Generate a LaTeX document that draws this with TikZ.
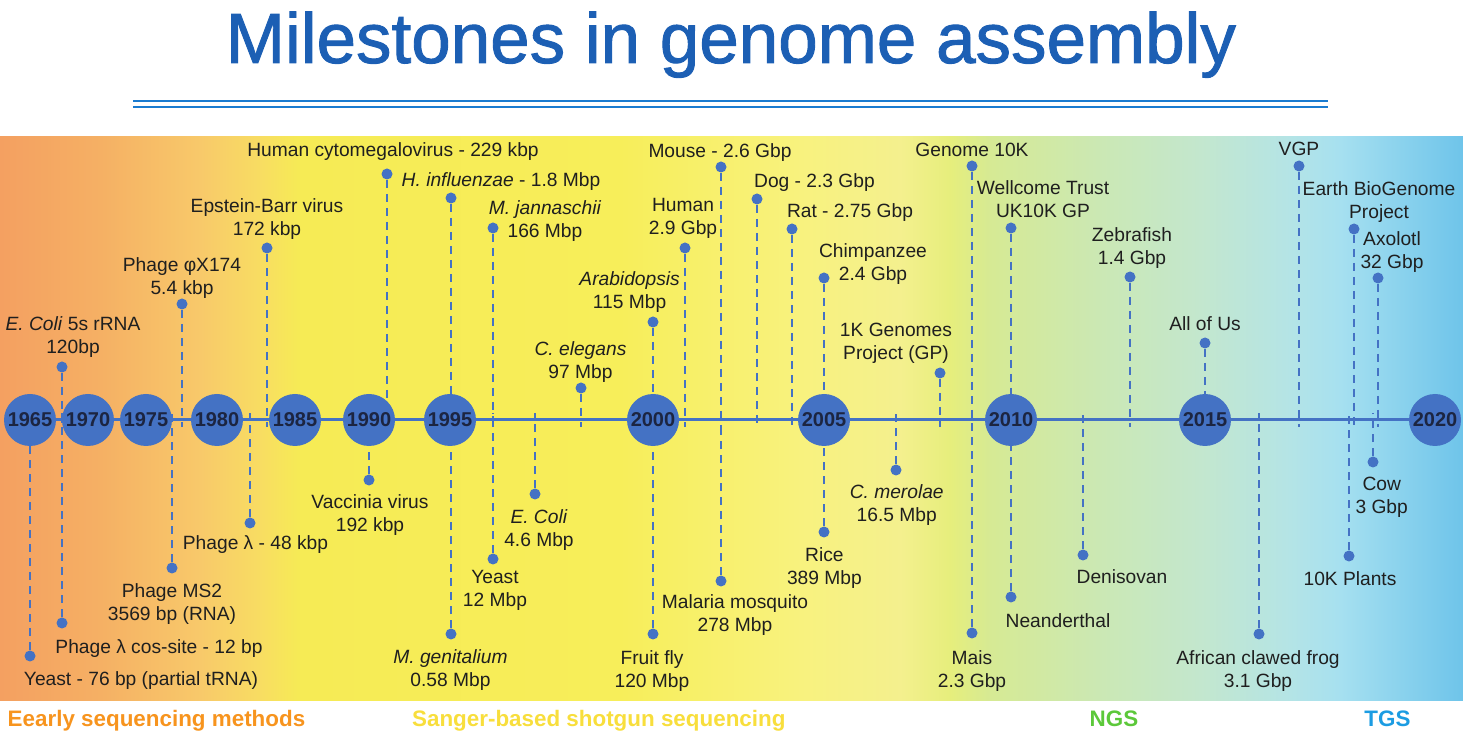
\documentclass[tikz,border=0pt]{standalone}
\usepackage{fontspec}
\setmainfont{Liberation Sans}
\newfontfamily\titlefont{Liberation Sans}[FakeBold=1.3]
\usetikzlibrary{positioning}
\definecolor{tlblue}{HTML}{4472C4}
\definecolor{yeartext}{HTML}{1C2541}
\definecolor{titleblue}{HTML}{1C5FB4}
\definecolor{rulerblue}{HTML}{1A7BD0}
\definecolor{earlyorange}{HTML}{F7941E}
\definecolor{sangeryellow}{HTML}{F8DE3C}
\definecolor{ngsgreen}{HTML}{5CC83A}
\definecolor{tgsblue}{HTML}{1C9CE2}
% background band, left to right
\definecolor{bandA}{HTML}{F4A061}
\definecolor{bandB}{HTML}{F5B064}
\definecolor{bandC}{HTML}{F8C96A}
\definecolor{bandD}{HTML}{F8DD62}
\definecolor{bandE}{HTML}{F6EB55}
\definecolor{bandF}{HTML}{F7EE5A}
\definecolor{bandG}{HTML}{F8F27E}
\definecolor{bandH}{HTML}{F4F08E}
\definecolor{bandI}{HTML}{E6EE7C}
\definecolor{bandJ}{HTML}{D6EA94}
\definecolor{bandK}{HTML}{CBE8B4}
\definecolor{bandL}{HTML}{C3E7CE}
\definecolor{bandM}{HTML}{B4E4E6}
\definecolor{bandN}{HTML}{A6E0F0}
\definecolor{bandO}{HTML}{6EC4EA}
\tikzset{
  yearnode/.style={circle, fill=tlblue, minimum size=26pt, inner sep=0pt, text=yeartext, font=\bfseries\fontsize{10}{12}\selectfont},
  msdot/.style={circle, fill=tlblue, minimum size=5.5pt, inner sep=0pt},
  stemline/.style={draw=tlblue, line width=1pt, dash pattern=on 4pt off 3pt},
  axisline/.style={draw=tlblue, line width=1.5pt},
  mslabel/.style={align=center, inner sep=0pt, text=black!88, font=\fontsize{9.6}{11.5}\selectfont},
  era/.style={anchor=base, font=\bfseries\fontsize{11.2}{13}\selectfont},
}

\begin{document}
\begin{tikzpicture}[x=0.5pt,y=-0.5pt]
  \useasboundingbox (0,0) rectangle (1463,732);
  % title
  \node[anchor=base, text=titleblue, font=\titlefont\fontsize{35.5}{40}\selectfont] (title) at (731,63) {Milestones in genome assembly};
  \draw[rulerblue, line width=1pt] (133,100.7) -- (1328,100.7);
  \draw[rulerblue, line width=1pt] (133,107.3) -- (1328,107.3);
  % colour band
  \foreach \xa/\ca/\xb/\cb in {0/bandA/100/bandB, 100/bandB/200/bandC, 200/bandC/260/bandD,
      260/bandD/300/bandE, 300/bandE/620/bandF, 620/bandF/800/bandG, 800/bandG/900/bandH,
      900/bandH/950/bandI, 950/bandI/990/bandJ, 990/bandJ/1100/bandK, 1100/bandK/1200/bandL,
      1200/bandL/1290/bandM, 1290/bandM/1340/bandN, 1340/bandN/1463/bandO}
    \shade[left color=\ca, right color=\cb] (\xa,137) rectangle (\xb+0.8,700);
  \coordinate (axup) at (0,413);
  \coordinate (axdn) at (0,427);
  \coordinate (axl) at (30,420);
  \coordinate (axr) at (1435,420);
  % milestones above the axis
  \foreach \n/\x/\dy/\lx/\ly/\txt in {
      ecolis/62/367/73/337/{\textit{E. Coli} 5s rRNA\\120bp},
      phix/182/304/182/277.7/{Phage φX174\\5.4 kbp},
      ebv/267/248/267/219/{Epstein-Barr virus\\172 kbp},
      hcmv/387/174/393/152/{Human cytomegalovirus - 229 kbp},
      hinf/451/198/501/182/{\textit{H. influenzae} - 1.8 Mbp},
      mjan/493/228/545/221.5/{\textit{M. jannaschii}\\166 Mbp},
      cele/581/388/580.5/361.7/{\textit{C. elegans}\\97 Mbp},
      arab/653/322/629.6/292/{\textit{Arabidopsis}\\115 Mbp},
      human/685/248/683/218.7/{Human\\2.9 Gbp},
      mouse/721/167/720/152.3/{Mouse - 2.6 Gbp},
      dog/757/199/814.5/183/{Dog - 2.3 Gbp},
      rat/792/229/850/212.3/{Rat - 2.75 Gbp},
      chimp/824/278/873/264.4/{Chimpanzee\\2.4 Gbp},
      onekg/940/373/896/342.9/{1K Genomes\\Project (GP)},
      gtenk/972/166/972/150.3/{Genome 10K},
      uktenk/1011/228/1043/198.7/{Wellcome Trust\\UK10K GP},
      zebra/1130/277/1132/248.4/{Zebrafish\\1.4 Gbp},
      allofus/1205/343/1205/324/{All of Us},
      vgp/1299/166/1299/149.3/{VGP},
      ebp/1354/229/1379/202.2/{Earth BioGenome\\Project},
      axol/1378/278/1392/251.8/{Axolotl\\32 Gbp}}{
    \node[msdot] (m\n) at (\x,\dy) {};
    \draw[stemline] (m\n) -- (m\n |- axdn);
    \node[mslabel] (l\n) at (\lx,\ly) {\txt};
  }
  % milestones below the axis
  \foreach \n/\x/\dy/\lx/\ly/\txt in {
      yeastt/30/656/141/680.8/{Yeast - 76 bp (partial tRNA)},
      cos/62/623/159/649/{Phage λ cos-site - 12 bp},
      ms/172/568/172/604/{Phage MS2\\3569 bp (RNA)},
      lambda/250/523/255.5/544.3/{Phage λ - 48 kbp},
      vacc/369/480/370/515.5/{Vaccinia virus\\192 kbp},
      mgen/451/634/450.5/670.2/{\textit{M. genitalium}\\0.58 Mbp},
      yeast/493/559/495/590.3/{Yeast\\12 Mbp},
      ecoli/535/494/539/530.2/{\textit{E. Coli}\\4.6 Mbp},
      fly/653/634/652/670.9/{Fruit fly\\120 Mbp},
      malaria/721/581/735/614.7/{Malaria mosquito\\278 Mbp},
      rice/824/532/824.4/568.1/{Rice\\389 Mbp},
      cmer/896/470/896.7/505.1/{\textit{C. merolae}\\16.5 Mbp},
      mais/972/633/972/671/{Mais\\2.3 Gbp},
      neand/1011/597/1058/620.3/{Neanderthal},
      deni/1083/555/1122/577/{Denisovan},
      frog/1259/634/1258/671/{African clawed frog\\3.1 Gbp},
      plants/1349/556/1350/578.7/{10K Plants},
      cow/1373/462/1381.7/497/{Cow\\3 Gbp}}{
    \node[msdot] (m\n) at (\x,\dy) {};
    \draw[stemline] (m\n) -- (m\n |- axup);
    \node[mslabel] (l\n) at (\lx,\ly) {\txt};
  }
  % axis and years
  \draw[axisline] (axl) -- (axr);
  \foreach \yr/\x in {1965/30, 1970/88, 1975/146, 1980/217, 1985/295, 1990/369,
      1995/450, 2000/653, 2005/824, 2010/1011, 2015/1205, 2020/1435}
    \node[yearnode] (y\yr) at (\x,420) {\yr};
  % eras
  \node[era, text=earlyorange] (early) at (156.5,726) {Eearly sequencing methods};
  \node[era, text=sangeryellow] (sanger) at (598.8,726) {Sanger-based shotgun sequencing};
  \node[era, text=ngsgreen] (ngs) at (1114,726) {NGS};
  \node[era, text=tgsblue] (tgs) at (1387.5,726) {TGS};
\end{tikzpicture}
\end{document}
